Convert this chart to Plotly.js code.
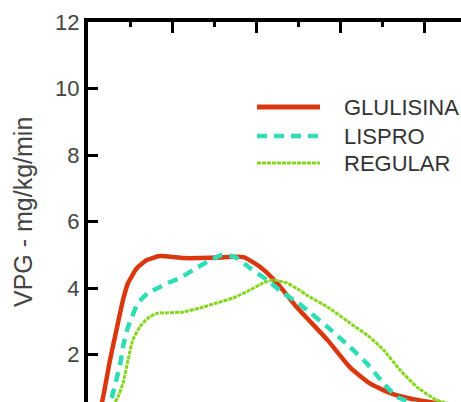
<!DOCTYPE html>
<html>
<head>
<meta charset="utf-8">
<script src="https://cdn.plot.ly/plotly-3.0.1.min.js"></script>
<style>
html,body{margin:0;padding:0;overflow:hidden;background:#fff;width:461px;height:402px;}
#chart{position:absolute;left:0;top:0;width:612px;height:481px;}
</style>
</head>
<body>
<div id="chart"></div>
<script>
// time in minutes, VPG in mg/kg/min
const glulisinaT = [0, 6, 10, 15.7, 21.4, 25, 28.6, 35, 42, 51.4, 68, 80, 94, 111, 123, 135, 149, 171, 187, 201, 216, 235, 247, 259, 280, 300];
const glulisinaV = [0, 0.15, 0.57, 1.83, 2.95, 3.64, 4.15, 4.60, 4.84, 4.96, 4.90, 4.90, 4.92, 4.93, 4.63, 4.15, 3.43, 2.44, 1.62, 1.14, 0.84, 0.63, 0.55, 0.48, 0.42, 0.38];

const lisproT = [0, 8, 13, 17, 20.7, 22.9, 25, 28.6, 31.4, 35.7, 42.9, 51.4, 57, 65.7, 75, 85, 95.7, 105, 115.7, 127.9, 139.3, 149.3, 159, 171, 187, 199, 211, 221, 240, 260, 280, 300];
const lisproV = [0, 0.15, 0.4, 0.72, 1.32, 1.68, 2.23, 2.83, 3.13, 3.55, 3.85, 4.03, 4.15, 4.30, 4.54, 4.78, 4.99, 4.93, 4.60, 4.24, 3.85, 3.58, 3.25, 2.83, 2.23, 1.74, 1.14, 0.72, 0.45, 0.35, 0.30, 0.28];

const regularT = [0, 10, 16, 21.4, 25, 28.6, 32, 37, 42.9, 50, 56, 68, 80, 92, 103.6, 115.7, 125, 132, 142, 151, 156, 171, 187, 201, 211, 223, 235, 249, 266, 285, 300];
const regularV = [0, 0.1, 0.35, 0.72, 1.14, 1.83, 2.44, 2.83, 3.10, 3.25, 3.25, 3.28, 3.40, 3.55, 3.70, 3.94, 4.15, 4.24, 4.15, 3.94, 3.79, 3.43, 2.95, 2.53, 2.14, 1.53, 1.02, 0.63, 0.45, 0.38, 0.35];

const seriesNames = ['GLULISINA', 'LISPRO', 'REGULAR'];
const colors = ['#d9380f', '#2fdcb4', '#86d620'];
const yTitle = 'VPG - mg/kg/min';
const yTicks = [2, 4, 6, 8, 10, 12];

// pixel geometry of plot area
const L = 88, T = 22, W = 504, H = 399;
const px2x = p => (p - L) / W;
const py2y = p => (T + H - p) / H;
const FONT = 'Liberation Sans, Arial, sans-serif';

const traces = [
  {x: glulisinaT, y: glulisinaV, name: seriesNames[0], mode: 'lines', line: {color: colors[0], width: 4.5, shape: 'spline', smoothing: 0.5}},
  {x: lisproT, y: lisproV, name: seriesNames[1], mode: 'lines', line: {color: colors[1], width: 4.5, dash: '10px,7px', shape: 'spline', smoothing: 0.5}},
  {x: regularT, y: regularV, name: seriesNames[2], mode: 'lines', line: {color: colors[2], width: 3, dash: '4px,1px', shape: 'spline', smoothing: 0.5}}
];

const legendRows = [107, 136, 163];
const dashes = ['solid', '10px,7px', '4px,1px'];
const widths = [5, 4.5, 3];
const shapes = legendRows.map((py, i) => ({
  type: 'line', xref: 'paper', yref: 'paper',
  x0: px2x(257), x1: px2x(320), y0: py2y(py), y1: py2y(py),
  line: {color: colors[i], width: widths[i], dash: dashes[i]}
}));
const annotations = legendRows.map((py, i) => ({
  xref: 'paper', yref: 'paper', x: px2x(342), y: py2y(py),
  xanchor: 'left', yanchor: 'middle', showarrow: false,
  text: seriesNames[i], font: {family: FONT, size: 22, color: '#333'}
}));
annotations.push({
  xref: 'paper', yref: 'paper', x: px2x(23), y: py2y(212),
  xanchor: 'center', yanchor: 'middle', showarrow: false, textangle: -90,
  text: yTitle, font: {family: FONT, size: 25, color: '#444'}
});

const layout = {
  width: 612, height: 481,
  margin: {l: L, t: T, r: 612 - L - W, b: 481 - T - H},
  paper_bgcolor: '#fff', plot_bgcolor: '#fff',
  showlegend: false,
  font: {family: FONT, color: '#444'},
  xaxis: {
    range: [0, 360], showline: true, linewidth: 4, linecolor: '#000', mirror: 'ticks',
    ticks: 'inside', ticklen: 11, tickwidth: 3, tickcolor: '#000', tick0: 0, dtick: 60,
    minor: {dtick: 30, ticks: 'inside', ticklen: 5, tickwidth: 3, tickcolor: '#000', showgrid: false},
    showgrid: false, zeroline: false, showticklabels: false
  },
  yaxis: {
    range: [0, 12], showline: true, linewidth: 4, linecolor: '#000', mirror: 'ticks',
    ticks: 'inside', ticklen: 10, tickwidth: 3, tickcolor: '#000', tickvals: yTicks,
    showgrid: false, zeroline: false,
    tickfont: {size: 22, color: '#444', family: FONT}
  },
  shapes: shapes,
  annotations: annotations
};

Plotly.newPlot('chart', traces, layout, {displayModeBar: false, staticPlot: true});
</script>
</body>
</html>
